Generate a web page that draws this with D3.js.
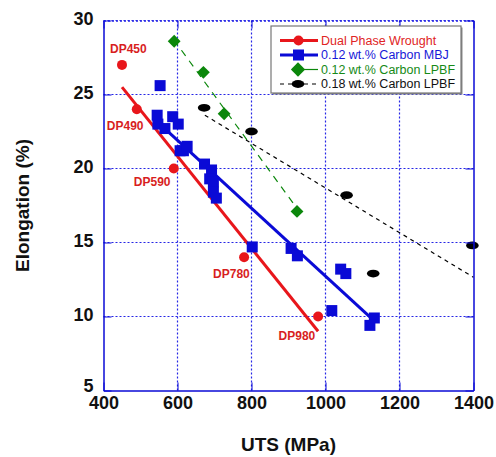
<!DOCTYPE html>
<html>
<head>
<meta charset="utf-8">
<script src="https://cdn.jsdelivr.net/npm/d3@7"></script>
<style>
  body { margin: 0; background: #fff; }
  svg { display: block; font-family: "Liberation Sans", Arial, sans-serif; }
</style>
</head>
<body>
<svg id="drawing_region"></svg>
<script>
// ---- data ----
const dpUts    = [450, 490, 590, 780, 980];
const dpElong  = [27, 24, 20, 14, 10];
const dpLabels = ["DP450", "DP490", "DP590", "DP780", "DP980"];

const mbjUts   = [553, 545, 547, 566, 587, 602, 607, 616, 626, 673, 692, 687, 697, 697, 705,
                  802, 907, 924, 1041, 1055, 1017, 1132, 1120];
const mbjElong = [25.6, 23.6, 23.0, 22.7, 23.5, 23.0, 21.2, 21.2, 21.5, 20.3, 19.9, 19.3, 19.1, 18.4, 18.0,
                  14.7, 14.6, 14.1, 13.2, 12.9, 10.4, 9.9, 9.4];

const lpbf12Uts   = [591, 670, 726, 923];
const lpbf12Elong = [28.6, 26.5, 23.7, 17.1];

const lpbf18Uts   = [672, 800, 1057, 1129, 1397];
const lpbf18Elong = [24.1, 22.5, 18.2, 12.9, 14.8];

// trend line end points [uts, elongation]
const dpFit     = [[450, 25.5], [980, 9.0]];
const mbjFit    = [[548, 23.1], [1125, 9.85]];
const lpbf12Fit = [[590, 28.7], [923, 17.3]];
const lpbf18Fit = [[674, 23.6], [1400, 12.65]];

const xTicks = [400, 600, 800, 1000, 1200, 1400];
const yTicks = [5, 10, 15, 20, 25, 30];

const seriesNames = ["Dual Phase Wrought", "0.12 wt.% Carbon MBJ", "0.12 wt.% Carbon LPBF", "0.18 wt.% Carbon LPBF"];

const RED = "#e8161b", BLUE = "#0a0ad6", GREEN = "#0b870b", BLACK = "#000";

class ScatterChart {

    constructor( config ){
	this.config = config;
	this.init();
    }

    init() {
	let self = this;
	const c = self.config;

	self.svg = d3.select( c.parent )
	    .attr('width', c.width)
	    .attr('height', c.height);

	self.chart = self.svg.append('g')
	    .attr('transform', `translate(${c.left}, ${c.top})`);

	self.inner_w = c.plotSize;
	self.inner_h = c.plotSize;

	self.x = d3.scaleLinear().domain([400, 1400]).range([0, self.inner_w]);
	self.y = d3.scaleLinear().domain([5, 30]).range([self.inner_h, 0]);
    }

    update() {
	let self = this;
	self.render();
    }

    render() {
	let self = this;
	const x = self.x, y = self.y, g = self.chart;
	const W = self.inner_w, H = self.inner_h;

	// dotted grid
	g.selectAll('.vgrid')
	    .data(xTicks.slice(1, -1))
	    .join('line')
	    .attr('x1', d => x(d)).attr('x2', d => x(d))
	    .attr('y1', 0).attr('y2', H)
	    .attr('stroke', '#2626e6').attr('stroke-width', 1.2)
	    .attr('stroke-dasharray', '2,2');

	g.selectAll('.hgrid')
	    .data(yTicks.slice(1))
	    .join('line')
	    .attr('x1', 0).attr('x2', W)
	    .attr('y1', d => y(d)).attr('y2', d => y(d))
	    .attr('stroke', '#2626e6').attr('stroke-width', 1.2)
	    .attr('stroke-dasharray', '2,2');

	// trend lines
	const line = d3.line().x(d => x(d[0])).y(d => y(d[1]));
	g.append('path').attr('d', line(dpFit)).attr('stroke', RED).attr('stroke-width', 3).attr('fill', 'none');
	g.append('path').attr('d', line(mbjFit)).attr('stroke', BLUE).attr('stroke-width', 3).attr('fill', 'none');
	g.append('path').attr('d', line(lpbf12Fit)).attr('stroke', GREEN).attr('stroke-width', 1.2)
	    .attr('stroke-dasharray', '7,6').attr('fill', 'none');
	g.append('path').attr('d', line(lpbf18Fit)).attr('stroke', BLACK).attr('stroke-width', 1.2)
	    .attr('stroke-dasharray', '4,4').attr('fill', 'none');

	// markers
	g.selectAll('.dp')
	    .data(dpUts.map((u, i) => ({u: u, e: dpElong[i], label: dpLabels[i]})))
	    .join('circle')
	    .attr('cx', d => x(d.u)).attr('cy', d => y(d.e))
	    .attr('r', 5).attr('fill', RED);

	g.selectAll('.mbj')
	    .data(mbjUts.map((u, i) => ({u: u, e: mbjElong[i]})))
	    .join('rect')
	    .attr('x', d => x(d.u) - 5.5).attr('y', d => y(d.e) - 5.5)
	    .attr('width', 11).attr('height', 11).attr('fill', BLUE);

	g.selectAll('.lpbf12')
	    .data(lpbf12Uts.map((u, i) => ({u: u, e: lpbf12Elong[i]})))
	    .join('path')
	    .attr('d', d3.symbol().type(d3.symbolDiamond2).size(105))
	    .attr('transform', d => `translate(${x(d.u)},${y(d.e)})`)
	    .attr('fill', GREEN);

	g.selectAll('.lpbf18')
	    .data(lpbf18Uts.map((u, i) => ({u: u, e: lpbf18Elong[i]})))
	    .join('ellipse')
	    .attr('cx', d => x(d.u)).attr('cy', d => y(d.e))
	    .attr('rx', 6.3).attr('ry', 3.9).attr('fill', BLACK);

	// DP labels (offset from their point)
	const labelPos = [[-12, -11.5], [-30, 20.5], [-40, 17.5], [-31, 21], [-39.5, 23.5]];
	g.selectAll('.dplabel')
	    .data(dpLabels)
	    .join('text')
	    .attr('x', (d, i) => x(dpUts[i]) + labelPos[i][0])
	    .attr('y', (d, i) => y(dpElong[i]) + labelPos[i][1])
	    .attr('font-size', 12).attr('font-weight', 'bold')
	    .attr('fill', '#d81e1e')
	    .text(d => d);

	// axes
	const xAxis = g.append('g').attr('transform', `translate(0, ${H})`)
	    .call(d3.axisBottom(x).tickValues(xTicks).tickFormat(d3.format('d'))
		  .tickSizeInner(-8).tickSizeOuter(0).tickPadding(6));
	const yAxis = g.append('g')
	    .call(d3.axisLeft(y).tickValues(yTicks).tickFormat(d3.format('d'))
		  .tickSizeInner(-8).tickSizeOuter(0).tickPadding(10));
	const topAxis = g.append('g')
	    .call(d3.axisTop(x).tickValues(xTicks).tickSizeInner(-8).tickSizeOuter(0).tickFormat(''));
	const rightAxis = g.append('g').attr('transform', `translate(${W}, 0)`)
	    .call(d3.axisRight(y).tickValues(yTicks).tickSizeInner(-8).tickSizeOuter(0).tickFormat(''));

	[xAxis, yAxis, topAxis, rightAxis].forEach(a => {
	    a.selectAll('.tick line').attr('stroke', BLUE);
	    a.select('.domain').attr('stroke', BLUE).attr('stroke-width', 1.5);
	});
	topAxis.select('.domain').attr('stroke-dasharray', '2,2').attr('stroke', '#2626e6');

	xAxis.selectAll('text')
	    .attr('font-size', 18).attr('font-weight', 'bold').attr('fill', '#111')
	    .attr('font-family', '"Liberation Sans", Arial, sans-serif');
	yAxis.selectAll('text')
	    .attr('font-size', 18).attr('font-weight', 'bold').attr('fill', '#111')
	    .attr('dy', d => d == 5 ? '0.08em' : '0.22em')
	    .attr('font-family', '"Liberation Sans", Arial, sans-serif');

	// axis titles
	self.svg.append('text')
	    .attr('x', self.config.left + W / 2).attr('y', 451)
	    .attr('text-anchor', 'middle')
	    .attr('font-size', 19).attr('font-weight', 'bold').attr('fill', '#111')
	    .text('UTS (MPa)');

	self.svg.append('text')
	    .attr('transform', `translate(29, ${self.config.top + H / 2}) rotate(-90)`)
	    .attr('text-anchor', 'middle')
	    .attr('font-size', 19).attr('font-weight', 'bold').attr('fill', '#111')
	    .text('Elongation (%)');

	self.legend();
    }

    legend() {
	let self = this;
	const lg = self.svg.append('g').attr('transform', 'translate(271, 26)');
	const rowY = [14.5, 29, 43.5, 58];

	lg.append('rect').attr('x', 1.5).attr('y', 1.5).attr('width', 190).attr('height', 67)
	    .attr('fill', '#888');
	lg.append('rect').attr('x', 0).attr('y', 0).attr('width', 190).attr('height', 67)
	    .attr('fill', '#fff').attr('stroke', '#777').attr('stroke-width', 1.2);

	// red
	lg.append('line').attr('x1', 9).attr('x2', 47).attr('y1', rowY[0]).attr('y2', rowY[0])
	    .attr('stroke', RED).attr('stroke-width', 3);
	lg.append('circle').attr('cx', 27.5).attr('cy', rowY[0]).attr('r', 5).attr('fill', RED);
	// blue
	lg.append('line').attr('x1', 9).attr('x2', 47).attr('y1', rowY[1]).attr('y2', rowY[1])
	    .attr('stroke', BLUE).attr('stroke-width', 3);
	lg.append('rect').attr('x', 22).attr('y', rowY[1] - 5.5).attr('width', 11).attr('height', 11).attr('fill', BLUE);
	// green
	lg.append('line').attr('x1', 27).attr('x2', 47).attr('y1', rowY[2]).attr('y2', rowY[2])
	    .attr('stroke', GREEN).attr('stroke-width', 1.2);
	lg.append('path').attr('d', d3.symbol().type(d3.symbolDiamond2).size(130))
	    .attr('transform', `translate(27, ${rowY[2]})`).attr('fill', GREEN);
	// black
	lg.append('line').attr('x1', 9).attr('x2', 47).attr('y1', rowY[3]).attr('y2', rowY[3])
	    .attr('stroke', BLACK).attr('stroke-width', 1.2).attr('stroke-dasharray', '4,4');
	lg.append('ellipse').attr('cx', 27).attr('cy', rowY[3]).attr('rx', 6.3).attr('ry', 3.9).attr('fill', BLACK);

	lg.selectAll('.ltext')
	    .data(seriesNames)
	    .join('text')
	    .attr('x', 50).attr('y', (d, i) => rowY[i])
	    .attr('dy', '0.35em')
	    .attr('font-size', 12.5)
	    .attr('fill', (d, i) => i == 0 ? '#e02424' : i == 1 ? '#1818d8' : i == 2 ? '#168a16' : '#111')
	    .text(d => d);
    }
}

const config = {
    parent: '#drawing_region',
    width: 496,
    height: 457,
    left: 103.5,
    top: 20.5,
    plotSize: 370
};

const scatter_chart = new ScatterChart( config );
scatter_chart.update();
</script>
</body>
</html>
